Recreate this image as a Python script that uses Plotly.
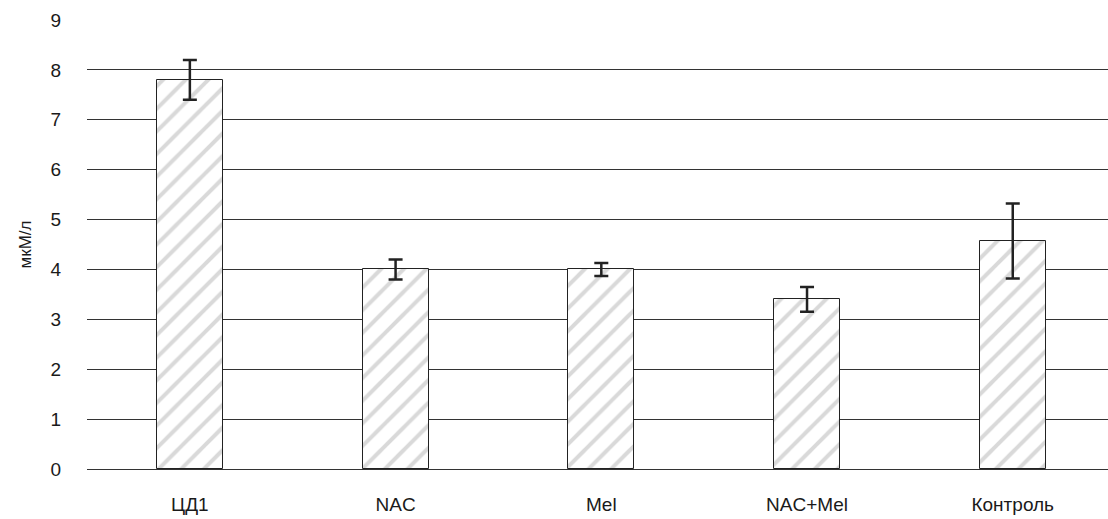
import plotly.graph_objects as go

# Group labels, means and error half-widths (мкМ/л)
categories = ["ЦД1", "NAC", "Mel", "NAC+Mel", "Контроль"]
values = [7.8, 4.0, 4.0, 3.4, 4.57]
errors = [0.4, 0.2, 0.13, 0.25, 0.75]
y_ticks = [0, 1, 2, 3, 4, 5, 6, 7, 8, 9]

font_family = "Liberation Sans, Arial, sans-serif"

fig = go.Figure()
fig.add_trace(go.Bar(
    x=categories,
    y=values,
    width=0.32,
    marker=dict(
        color="white",
        line=dict(color="#222222", width=1),
        pattern=dict(shape="/", fgcolor="#b4b4b4", bgcolor="white",
                     size=16, solidity=0.25, fillmode="overlay"),
    ),
    error_y=dict(type="data", array=errors, visible=True,
                 color="#222222", thickness=2.5, width=7),
    showlegend=False,
))

fig.update_layout(
    width=1108, height=519,
    margin=dict(l=87, r=0, t=20, b=50),
    paper_bgcolor="white",
    plot_bgcolor="white",
    font=dict(family=font_family, size=19, color="#1a1a1a"),
    bargap=0,
    xaxis=dict(
        range=[-0.5, 4.463],
        automargin=False,
        showgrid=False,
        showline=False,
        ticks="",
        ticklabelstandoff=22,
        tickfont=dict(size=19),
    ),
    yaxis=dict(
        range=[0, 9],
        automargin=False,
        tickvals=y_ticks,
        showgrid=True,
        gridcolor="#333333",
        gridwidth=1,
        zeroline=True,
        zerolinecolor="#333333",
        zerolinewidth=1,
        showline=False,
        ticks="",
        ticklabelstandoff=25,
        tickfont=dict(size=19),
        title=dict(text="мкМ/л", font=dict(size=17), standoff=14),
    ),
)

fig.write_html("out.html")
